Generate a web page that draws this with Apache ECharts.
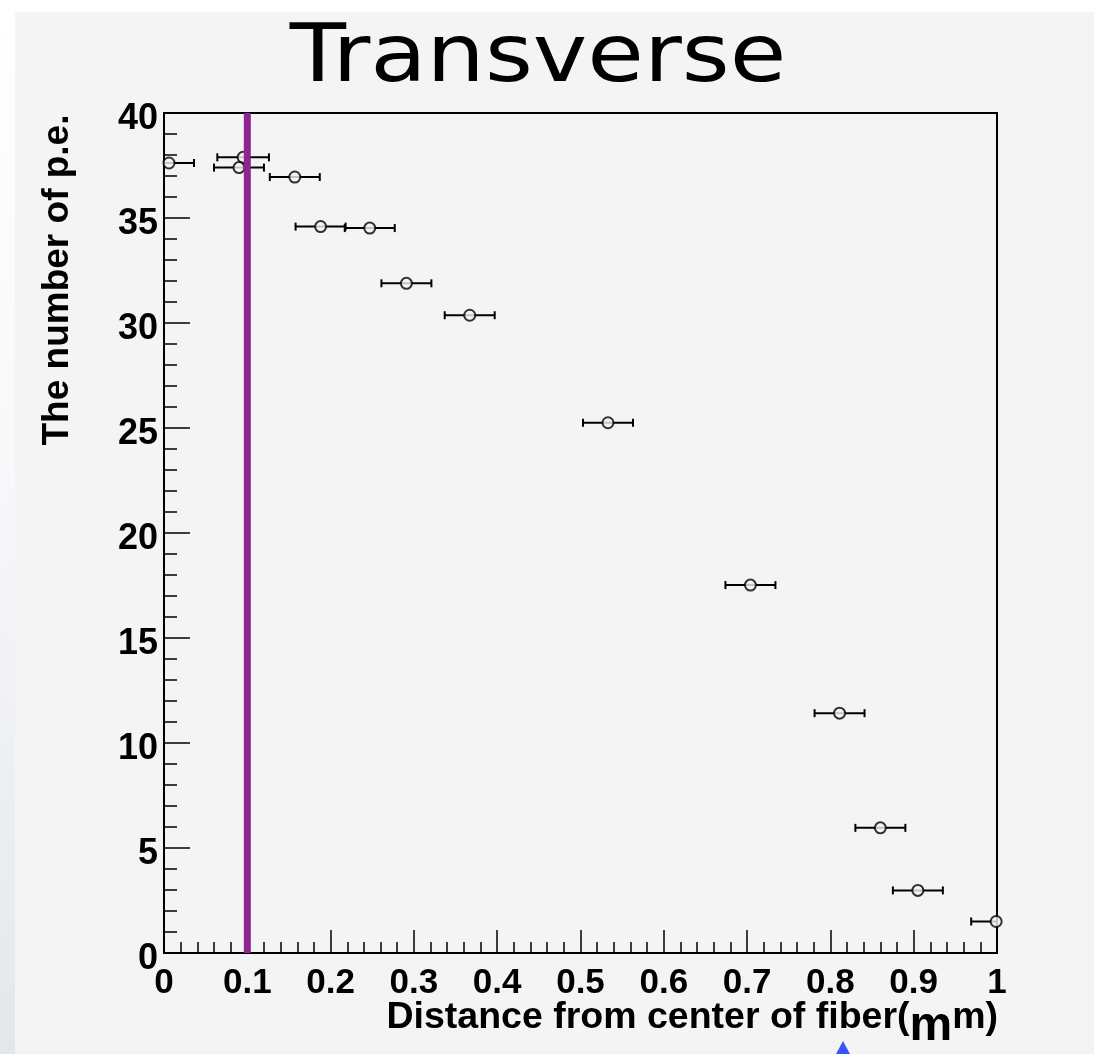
<!DOCTYPE html>
<html>
<head>
<meta charset="utf-8">
<script src="https://cdn.jsdelivr.net/npm/echarts@6/dist/echarts.min.js"></script>
<style>
  html, body { margin: 0; padding: 0; width: 1094px; height: 1054px; overflow: hidden;
    background: linear-gradient(to bottom, #ffffff 0%, #f7f8f9 45%, #e3e7ec 100%); }
  #panel { position: absolute; left: 15px; top: 12px; width: 1079px; height: 1042px; background: #f4f4f4; }
  #chart { position: absolute; left: 0; top: 0; width: 1094px; height: 1054px; }
</style>
</head>
<body>
<div id="panel"></div>
<div id="chart"></div>
<script>
// Data
const distance    = [0.006, 0.095, 0.090, 0.157, 0.188, 0.247, 0.291, 0.367, 0.533, 0.704, 0.811, 0.860, 0.905, 0.999];
const peCount     = [37.62, 37.89, 37.40, 36.95, 34.59, 34.52, 31.89, 30.37, 25.25, 17.52, 11.42, 5.96, 2.98, 1.50];
const distanceErr = [0.030, 0.031, 0.030, 0.030, 0.030, 0.030, 0.030, 0.030, 0.030, 0.030, 0.030, 0.030, 0.030, 0.030];
const cutPosition = 0.1;
const titleText = 'Transverse';
const yTitle = 'The number of p.e.';
const xTitleParts = ['Distance from center of fiber(', 'm', 'm)'];

const points = distance.map((d, i) => [d, peCount[i], distanceErr[i]]);

const chart = echarts.init(document.getElementById('chart'), null, { renderer: 'canvas' });
const tickStyle = { color: '#000', width: 1.5 };
const labelFont = 'Liberation Sans, Arial, Helvetica, sans-serif';

const option = {
  animation: false,
  backgroundColor: 'transparent',
  grid: {
    left: 164, top: 113, width: 833, height: 840,
    show: true, borderColor: '#000', borderWidth: 2, backgroundColor: '#f4f4f4'
  },
  xAxis: {
    type: 'value', min: 0, max: 1, interval: 0.1,
    axisLine: { show: true, onZero: false, lineStyle: { color: '#000', width: 2 } },
    axisTick: { show: true, inside: true, length: 23, lineStyle: tickStyle },
    minorTick: { show: true, splitNumber: 5, length: 11, lineStyle: tickStyle },
    splitLine: { show: false },
    axisLabel: { fontFamily: labelFont, fontWeight: 'bold', fontSize: 35, color: '#000', margin: 13, showMaxLabel: true, showMinLabel: true }
  },
  yAxis: {
    type: 'value', min: 0, max: 40, interval: 5,
    axisLine: { show: true, onZero: false, lineStyle: { color: '#000', width: 2 } },
    axisTick: { show: true, inside: true, length: 26, lineStyle: tickStyle },
    minorTick: { show: true, splitNumber: 5, length: 13, lineStyle: tickStyle },
    splitLine: { show: false },
    axisLabel: {
      margin: 6, showMaxLabel: true, showMinLabel: true,
      formatter: '{v|{value}}',
      rich: { v: { fontFamily: labelFont, fontWeight: 'bold', fontSize: 36, color: '#000', padding: [12, 0, 0, 0] } }
    }
  },
  graphic: [
    {
      type: 'text',
      x: 538, y: 20,
      scaleX: 1.15,
      style: {
        text: titleText,
        font: '80px DejaVu Sans',
        fill: '#000',
        align: 'center',
        verticalAlign: 'top'
      }
    },
    {
      type: 'text',
      x: 58, y: 280,
      rotation: Math.PI / 2,
      style: {
        text: yTitle,
        font: 'bold 37px ' + labelFont,
        fill: '#000',
        align: 'center',
        verticalAlign: 'middle'
      }
    },
    {
      type: 'text',
      x: 998, y: 1051,
      style: {
        text: '{n|' + xTitleParts[0] + '}{m|' + xTitleParts[1] + '}{n|' + xTitleParts[2] + '}',
        align: 'right',
        verticalAlign: 'bottom',
        rich: {
          n: { fontFamily: labelFont, fontWeight: 'bold', fontSize: 37.5, fill: '#000', color: '#000', verticalAlign: 'bottom', padding: [0, 0, 14, 0] },
          m: { fontFamily: labelFont, fontWeight: 'bold', fontSize: 48, fill: '#000', color: '#000', verticalAlign: 'bottom' }
        }
      }
    },
    {
      type: 'polygon',
      shape: { points: [[843, 1041], [836, 1054], [850, 1054]] },
      style: { fill: '#3a55f5' }
    }
  ],
  series: [
    {
      type: 'custom',
      clip: true,
      z: 2,
      data: points,
      renderItem: function (params, api) {
        const x = api.value(0), y = api.value(1), e = api.value(2);
        const p1 = api.coord([x - e, y]);
        const p2 = api.coord([x + e, y]);
        const h = 4;
        const st = { stroke: '#000', lineWidth: 2 };
        return {
          type: 'group',
          children: [
            { type: 'line', shape: { x1: p1[0], y1: p1[1], x2: p2[0], y2: p2[1] }, style: st },
            { type: 'line', shape: { x1: p1[0], y1: p1[1] - h, x2: p1[0], y2: p1[1] + h }, style: st },
            { type: 'line', shape: { x1: p2[0], y1: p2[1] - h, x2: p2[0], y2: p2[1] + h }, style: st }
          ]
        };
      }
    },
    {
      type: 'scatter',
      z: 3,
      data: points.map(p => [p[0], p[1]]),
      symbol: 'circle',
      symbolSize: 11,
      itemStyle: { color: '#f4f4f4', borderColor: '#000', borderWidth: 2 }
    },
    {
      type: 'line',
      z: 5,
      data: [[cutPosition, 0], [cutPosition, 40]],
      showSymbol: false,
      symbol: 'none',
      lineStyle: { color: '#8e2491', width: 7 }
    }
  ]
};
chart.setOption(option);
</script>
</body>
</html>
